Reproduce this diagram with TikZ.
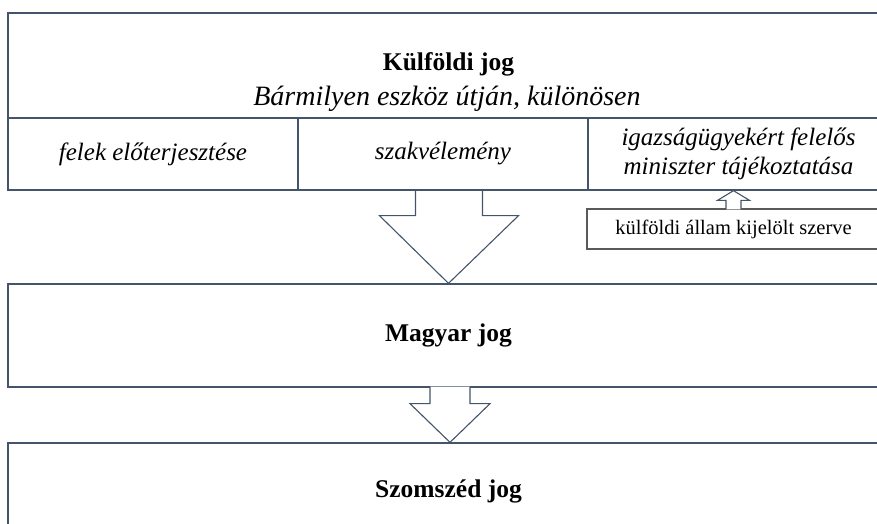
\documentclass[tikz,border=0pt]{standalone}
\usepackage{fontspec}
\setmainfont{Liberation Serif}
\usetikzlibrary{positioning,calc}
\definecolor{keret}{HTML}{44546A}
\definecolor{szurke}{HTML}{5A5A5A}

\begin{document}
\begin{tikzpicture}[x=1pt, y=-1pt,
  doboz/.style={draw=keret, line width=1.3pt, rectangle, inner sep=0pt},
  cella/.style={doboz, minimum height=72pt, font=\fontsize{25}{29}\selectfont\itshape, align=center},
  nyil/.style={draw=keret, line width=1.1pt, fill=white, line join=miter}]
\useasboundingbox (0,0) rectangle (877,523);
\clip (0,0) rectangle (877,523);

% Upper box: foreign law and the means of learning it
\node[doboz, minimum width=881pt, minimum height=105pt] (kulfoldi) at (448.5,65.5) {};
\node[font=\fontsize{25.5}{30}\selectfont\bfseries] (cim) at (448.5,64) {Külföldi jog};
\node[font=\fontsize{28}{32}\selectfont\itshape] (mod) at (447,99) {Bármilyen eszköz útján, különösen};

% Row of the three means
\node[cella, minimum width=290pt] (felek) at (153,154) {felek előterjesztése};
\node[cella, minimum width=290pt] (szak) at (443,154) {szakvélemény};
\node[cella, minimum width=301pt] (miniszter) at (738.5,154)
  {\raisebox{-3pt}{\begin{tabular}{@{}c@{}}igazságügyekért felelős\\miniszter tájékoztatása\end{tabular}}};

% Small box under the ministry
\node[doboz, draw=szurke, minimum width=293pt, minimum height=40pt, font=\fontsize{20.5}{24}\selectfont] (szerv) at (733.5,229) {külföldi állam kijelölt szerve};

% Lower boxes
\node[doboz, minimum width=881pt, minimum height=103pt, font=\fontsize{25.5}{30}\selectfont\bfseries] (magyar) at (448.5,335.5) {Magyar jog};
\node[doboz, minimum width=881pt, minimum height=96pt, font=\fontsize{25.5}{30}\selectfont\bfseries] (szomszed) at (448.5,491) {Szomszéd jog};

% Block arrows
\path[nyil, fill=none] ($(magyar.north |- szak.south)+(-33,0)$) -- ++(0,25) -- ++(-36,0) -- (magyar.north)
  -- ($(magyar.north |- szak.south)+(70,25)$) -- ++(-36,0) -- ++(0,-25);
\path[nyil] ($(magyar.south)+(-18.5,-1)$) -- ++(0,17) -- ++(-20,0) -- ($(szomszed.north)+(1.5,0)$)
  -- ($(magyar.south)+(41.5,16)$) -- ++(-20,0) -- ++(0,-17);
\coordinate (csucs) at (szerv.north |- miniszter.south);
\path[nyil] ($(szerv.north)+(-7.5,1)$) -- ++(0,-9) -- ++(-8.5,0) -- (csucs)
  -- ($(szerv.north)+(16,-8)$) -- ++(-8.5,0) -- ++(0,9);

\end{tikzpicture}
\end{document}
